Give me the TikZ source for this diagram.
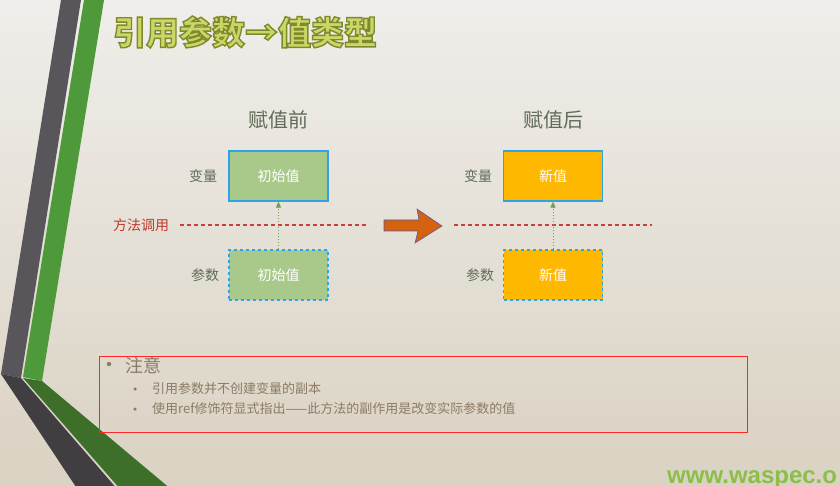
\documentclass[tikz,border=0pt]{standalone}
\usepackage{fontspec}
\setmainfont{Noto Sans CJK SC}
\newfontfamily\urlfont{Liberation Sans}
\usetikzlibrary{arrows.meta}
\definecolor{bgtop}{HTML}{F0EEEB}
\definecolor{bgbot}{HTML}{DAD2C2}
\definecolor{bandgray}{HTML}{58565A}
\definecolor{banddark}{HTML}{403E40}
\definecolor{bandgreen}{HTML}{4E9A3A}
\definecolor{banddeep}{HTML}{3D6E2A}
\definecolor{titlefill}{HTML}{CAD665}
\definecolor{headgray}{HTML}{5F6C58}
\definecolor{boxblue}{HTML}{2FA3E6}
\definecolor{initgreen}{HTML}{A9C98B}
\definecolor{newamber}{HTML}{FFB800}
\definecolor{callred}{HTML}{C0392B}
\definecolor{callline}{HTML}{C8403A}
\definecolor{passgreen}{HTML}{70A050}
\definecolor{turnorange}{HTML}{D4620E}
\definecolor{notebrown}{HTML}{8C7B66}
\definecolor{urlgreen}{HTML}{8CBF4A}
% stroked outline round the title glyphs
\newcommand\edgedtext[1]{\special{pdf:literal direct 2 Tr 1.4 w 0.494 0.541 0.173 RG}#1\special{pdf:literal direct 0 Tr}}

\begin{document}
\begin{tikzpicture}[
    x=1pt, y=-1pt,
    >={Stealth[length=2.5mm]},
    titletext/.style={font=\fontsize{33}{36}\selectfont\bfseries, inner sep=0pt, text=titlefill},
    head/.style={font=\fontsize{20}{22}\selectfont, text=headgray},
    side/.style={font=\fontsize{14}{16}\selectfont, text=headgray},
    valbox/.style={rectangle, draw=boxblue, line width=1.2pt, fill=#1,
                   minimum width=99pt, minimum height=50pt, text=white,
                   font=\fontsize{14}{16}\selectfont},
    callpath/.style={draw=callline, line width=1.1pt, dash pattern=on 4pt off 3pt},
    pass/.style={-{Triangle[length=6pt, width=5pt]}, dotted, passgreen, line width=1pt},
    note/.style={anchor=west, text=notebrown, inner sep=0pt},
    dot/.style={circle, fill=notebrown, inner sep=0pt, minimum size=#1},
  ]
  \useasboundingbox (0,0) rectangle (840,486);
  \clip (0,0) rectangle (840,486);
  \shade[top color=bgtop, bottom color=bgbot] (0,0) rectangle (840,486);

  % side bands
  \fill[bandgray] (61,0) -- (81,0) -- (21,378) -- (1,374) -- cycle;
  \fill[banddark] (1,374) -- (21,378) -- (118,490) -- (78,490) -- cycle;
  \fill[bandgreen] (84,0) -- (104,0) -- (42,381) -- (23,377) -- cycle;
  \fill[banddeep] (23,378) -- (42,381) -- (172,490) -- (121,490) -- cycle;

  % title
  \node[titletext] (title) at (245, 32) {\edgedtext{引用参数→值类型}};

  % before
  \node[head] (hbefore) at (278, 120) {赋值前};
  \node[side] (lvar1) at (203, 176) {变量};
  \node[side] (larg1) at (205, 275) {参数};
  \node[valbox=initgreen] (var1) at (278.5, 176) {初始值};
  \node[valbox=initgreen, dashed] (arg1) at (278.5, 275) {初始值};
  \draw[pass] (arg1) -- (var1);

  % method call
  \node[font=\fontsize{14}{16}\selectfont, text=callred] (call) at (141, 225) {方法调用};
  \coordinate (cl0) at (180, 225);
  \coordinate (cl1) at (366, 225);
  \coordinate (cr0) at (454, 225);
  \coordinate (cr1) at (652, 225);
  \draw[callpath] (cl0) -- (cl1);
  \draw[callpath] (cr0) -- (cr1);

  % turn arrow
  \filldraw[fill=turnorange, draw=gray!70!blue, line width=0.6pt]
    (384,220) -- (419,220) -- (417,209) -- (442,226) -- (415,243) -- (418,231)
    -- (384,231) -- cycle;

  % after
  \node[head] (hafter) at (553, 120) {赋值后};
  \node[side] (lvar2) at (478, 176) {变量};
  \node[side] (larg2) at (480, 275) {参数};
  \node[valbox=newamber] (var2) at (553, 176) {新值};
  \node[valbox=newamber, dashed] (arg2) at (553, 275) {新值};
  \draw[pass] (arg2) -- (var2);

  % notes
  \draw[red!85!white, line width=0.8pt] (99,356) rectangle (747,432);
  \node[dot=4.5pt] (d0) at (109, 364) {};
  \node[note, font=\fontsize{18}{20}\selectfont] (n0) at (125, 365) {注意};
  \node[dot=3.5pt] (d1) at (135, 389) {};
  \node[note, font=\fontsize{13}{15}\selectfont] (n1) at (152, 389) {引用参数并不创建变量的副本};
  \node[dot=3.5pt] (d2) at (135, 409) {};
  \node[note, font=\fontsize{13}{15}\selectfont] (n2) at (152, 409)
    {使用ref修饰符显式指出——此方法的副作用是改变实际参数的值};

  % site mark
  \node[anchor=base west, inner sep=0pt, text=urlgreen,
        font=\urlfont\fontsize{24}{26}\selectfont\bfseries] (site) at (667, 483) {www.waspec.o};
\end{tikzpicture}
\end{document}
